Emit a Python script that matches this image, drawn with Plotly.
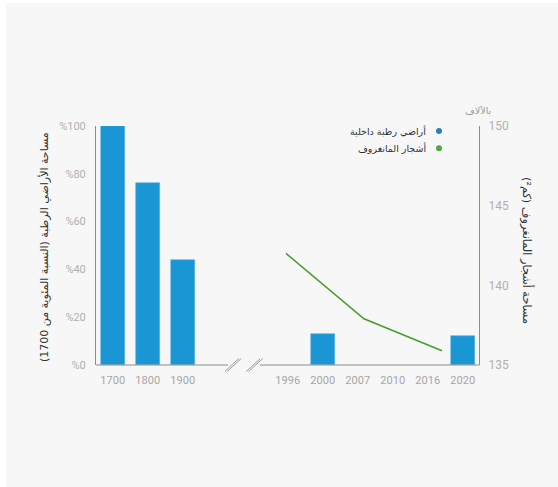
import plotly.graph_objects as go

# ---------------- data ----------------
categories = ["1700", "1800", "1900", "", "", "1996", "2000", "2007", "2010", "2016", "2020"]
wetland_pct = [100, 76, 44, None, None, None, 13, None, None, None, 12]
mangrove_years = ["1996", "2007", "2016"]
mangrove_area = [142.0, 137.9, 135.9]
left_ticks = [0, 20, 40, 60, 80, 100]
left_ticktext = ["%0", "%20", "%40", "%60", "%80", "%100"]
right_ticks = [135, 140, 145, 150]

left_title = "مساحة الأراضي الرطبة (النسبة المئوية من 1700)"
right_title = "مساحة أشجار المانغروف (كم²)"
legend_names = ["أراضي رطبة داخلية", "أشجار المانغروف"]
unit_label = "بالآلاف"

# ---------------- layout geometry ----------------
W, H = 558, 487
L, R, T, B = 96, 479, 126, 365  # plot area in pixels
PW, PH = R - L, B - T


def px(x):
    return (x - L) / PW


def py(y):
    return (B - y) / PH


BAR = "#1996d3"
GREEN = "#4a9e2e"
AXIS = "#8c8c8c"
TICK = "#b0b0b0"
FONT = "Roboto, DejaVu Sans, sans-serif"
AR_FONT = "DejaVu Sans, Noto Sans, sans-serif"

xs = list(range(len(categories)))
tick_idx = [i for i, c in enumerate(categories) if c]

fig = go.Figure()
fig.add_trace(go.Bar(
    x=xs, y=wetland_pct, width=0.69,
    marker=dict(color=BAR, line=dict(color="#5fb6e3", width=0.6)),
    name=legend_names[0], showlegend=False, xaxis="x", yaxis="y",
))
fig.add_trace(go.Scatter(
    x=mangrove_years, y=mangrove_area, mode="lines",
    line=dict(color=GREEN, width=1.6),
    name=legend_names[1], showlegend=False, xaxis="x2", yaxis="y2",
))

# x range so that category step = 35px and 1700 sits at x=112.7
step = 35.0
x0 = -(112.7 - L) / step
x1 = x0 + PW / step
# line axis: three points at 286, 364, 442 px
lstep = 78.0
l0 = -(286 - L) / lstep
l1 = l0 + PW / lstep

fig.update_layout(
    width=W, height=H,
    margin=dict(l=L, r=W - R, t=T, b=H - B, pad=0),
    paper_bgcolor="white",
    plot_bgcolor="rgba(0,0,0,0)",
    font=dict(family=FONT, size=11, color=TICK),
    showlegend=False,
    bargap=0,
    xaxis=dict(
        range=[x0, x1], tickvals=[xs[i] for i in tick_idx],
        ticktext=[categories[i] for i in tick_idx],
        showgrid=False, zeroline=False, showline=False, ticks="",
        tickfont=dict(family=FONT, size=11, color="#a6a6a6"),
        ticklabelstandoff=7,
    ),
    xaxis2=dict(
        type="category", categoryorder="array", categoryarray=mangrove_years,
        range=[l0, l1], overlaying="x", visible=False,
    ),
    yaxis=dict(
        range=[0, 100], tickvals=left_ticks, ticktext=left_ticktext,
        showgrid=False, zeroline=False, showline=True, linecolor=AXIS,
        linewidth=1, ticks="", tickfont=dict(family=FONT, size=11, color=TICK),
        ticklabelstandoff=7,
    ),
    yaxis2=dict(
        range=[135, 150], tickvals=right_ticks, overlaying="y", side="right",
        showgrid=False, zeroline=False, showline=True, linecolor=AXIS,
        linewidth=1, ticks="", tickfont=dict(family=FONT, size=12, color=TICK),
        ticklabelstandoff=6,
    ),
)

shapes = []
# light grey card background
shapes.append(dict(type="rect", xref="paper", yref="paper",
                   x0=px(6), x1=px(W + 2), y0=py(H + 2), y1=py(3),
                   fillcolor="#f7f7f7", line=dict(width=0), layer="below"))
# broken baseline
shapes.append(dict(type="line", xref="paper", yref="paper",
                   x0=0, x1=px(228), y0=0, y1=0, line=dict(color=AXIS, width=1)))
shapes.append(dict(type="line", xref="paper", yref="paper",
                   x0=px(260), x1=1, y0=0, y1=0, line=dict(color=AXIS, width=1)))
# break marks (double slashes)
for cx in (233, 254.5):
    for off in (-1.2, 1.2):
        shapes.append(dict(type="line", xref="paper", yref="paper",
                           x0=px(cx - 7 + off), y0=py(371.5),
                           x1=px(cx + 7 + off), y1=py(358.5),
                           line=dict(color="#9a9a9a", width=1)))
# legend dots
for yy, col in ((131, "#2a7fc1"), (148.3, "#4fa83d")):
    shapes.append(dict(type="circle", xref="paper", yref="paper",
                       x0=px(436), x1=px(442), y0=py(yy + 3), y1=py(yy - 3),
                       fillcolor=col, line=dict(width=0)))
fig.update_layout(shapes=shapes)

ann = []
ann.append(dict(text=left_title, xref="paper", yref="paper",
                x=px(44), y=py(247), textangle=-90, showarrow=False,
                font=dict(family=AR_FONT, size=11, color="#333333"),
                xanchor="center", yanchor="middle"))
ann.append(dict(text=right_title, xref="paper", yref="paper",
                x=px(527), y=py(250), textangle=90, showarrow=False,
                font=dict(family=AR_FONT, size=11.3, color="#333333"),
                xanchor="center", yanchor="middle"))
for name, yy in zip(legend_names, (131, 148.3)):
    ann.append(dict(text=name, xref="paper", yref="paper",
                    x=px(428), y=py(yy), showarrow=False,
                    font=dict(family=AR_FONT, size=9.5, color="#333333"),
                    xanchor="right", yanchor="middle"))
ann.append(dict(text=unit_label, xref="paper", yref="paper",
                x=px(478), y=py(110), showarrow=False,
                font=dict(family=AR_FONT, size=9.5, color="#999999"),
                xanchor="center", yanchor="middle"))
fig.update_layout(annotations=ann)

fig.write_html("out.html")
